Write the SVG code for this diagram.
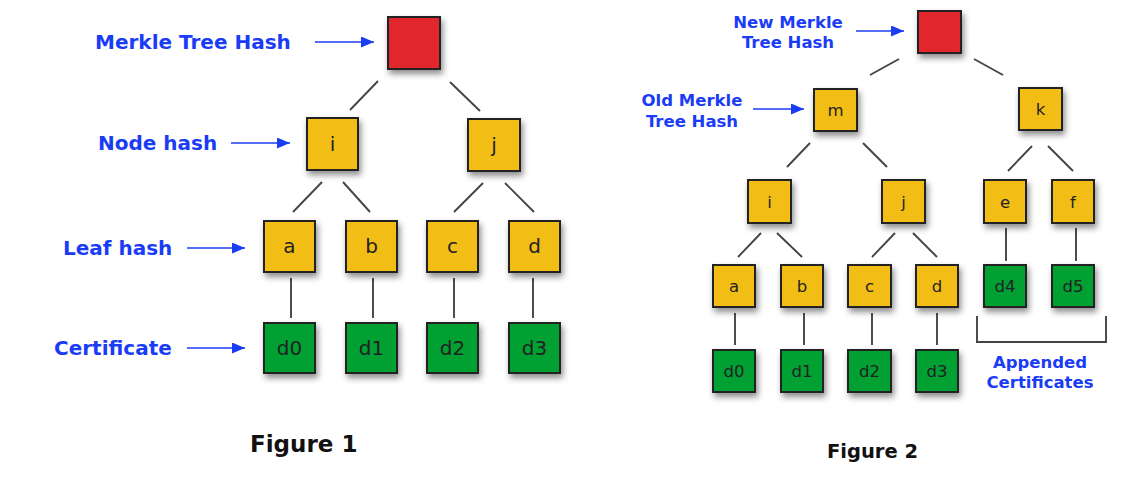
<svg xmlns="http://www.w3.org/2000/svg" width="1132" height="484" viewBox="0 0 1132 484">
<defs>
<filter id="sh" x="-30%" y="-30%" width="170%" height="170%">
<feDropShadow dx="2" dy="4" stdDeviation="3" flood-color="#000" flood-opacity="0.45"/>
</filter>
<marker id="ah" viewBox="0 0 13 11" refX="13" refY="5.5" markerWidth="13" markerHeight="11" markerUnits="userSpaceOnUse" orient="auto">
<path d="M0,0 L13,5.5 L0,11 Z" fill="#1a3cf5"/>
</marker>
</defs>
<style>
.red{fill:#e1262f;stroke:#222;stroke-width:2}
.yel{fill:#f2be12;stroke:#222;stroke-width:2}
.grn{fill:#02a032;stroke:#222;stroke-width:2}
.t1{font-family:"DejaVu Sans",sans-serif;font-size:20px;fill:#222;text-anchor:middle}
.t2{font-family:"DejaVu Sans",sans-serif;font-size:16.5px;fill:#222;text-anchor:middle}
.lb1{font-family:"DejaVu Sans",sans-serif;font-weight:bold;font-size:20px;fill:#1a3cf5}
.lb2{font-family:"DejaVu Sans",sans-serif;font-weight:bold;font-size:16.5px;fill:#1a3cf5;text-anchor:middle}
.fig{font-family:"DejaVu Sans",sans-serif;font-weight:bold;fill:#111}
.arr{stroke:#1a3cf5;stroke-width:1.6;fill:none;marker-end:url(#ah)}
.ln{stroke:#444;stroke-width:1.9;fill:none}
</style>
<rect width="1132" height="484" fill="#fff"/>

<g id="connectors">
<line class="ln" x1="378" y1="81" x2="350" y2="110"/>
<line class="ln" x1="450" y1="82" x2="480" y2="111"/>
<line class="ln" x1="322" y1="182" x2="293" y2="212"/>
<line class="ln" x1="343" y1="182" x2="370" y2="212"/>
<line class="ln" x1="483" y1="183" x2="454" y2="212"/>
<line class="ln" x1="505" y1="183" x2="534" y2="212"/>
<line class="ln" x1="291" y1="278" x2="291" y2="318"/>
<line class="ln" x1="373" y1="278" x2="373" y2="318"/>
<line class="ln" x1="454" y1="278" x2="454" y2="318"/>
<line class="ln" x1="533" y1="278" x2="533" y2="318"/>

<line class="ln" x1="899" y1="59" x2="870" y2="75"/>
<line class="ln" x1="974" y1="59" x2="1003" y2="75"/>
<line class="ln" x1="810" y1="143" x2="787" y2="167"/>
<line class="ln" x1="863" y1="143" x2="887" y2="167"/>
<line class="ln" x1="1032" y1="146" x2="1008" y2="171"/>
<line class="ln" x1="1048" y1="146" x2="1073" y2="171"/>
<line class="ln" x1="761" y1="233" x2="738" y2="257"/>
<line class="ln" x1="777" y1="233" x2="802" y2="257"/>
<line class="ln" x1="895" y1="233" x2="872" y2="257"/>
<line class="ln" x1="913" y1="233" x2="937" y2="257"/>
<line class="ln" x1="1006" y1="228" x2="1006" y2="261"/>
<line class="ln" x1="1076" y1="228" x2="1076" y2="261"/>
<line class="ln" x1="735" y1="313" x2="735" y2="345"/>
<line class="ln" x1="804" y1="313" x2="804" y2="345"/>
<line class="ln" x1="872" y1="313" x2="872" y2="345"/>
<line class="ln" x1="937" y1="313" x2="937" y2="345"/>
<path class="ln" d="M977,316 V342 H1106 V316"/>

<line class="arr" x1="315" y1="42" x2="374" y2="42"/>
<line class="arr" x1="231" y1="143" x2="290" y2="143"/>
<line class="arr" x1="187" y1="248" x2="245" y2="248"/>
<line class="arr" x1="187" y1="348" x2="245" y2="348"/>
<line class="arr" x1="856" y1="31" x2="904" y2="31"/>
<line class="arr" x1="753" y1="109" x2="804" y2="109"/>
</g>

<g id="labels1">
<text class="lb1" x="95" y="49">Merkle Tree Hash</text>
<text class="lb1" x="98" y="150">Node hash</text>
<text class="lb1" x="63" y="255">Leaf hash</text>
<text class="lb1" x="54" y="355">Certificate</text>
<text class="fig" x="250" y="452" font-size="23">Figure 1</text>
</g>

<g id="f1-root"><rect class="red" x="388" y="17" width="52" height="52" filter="url(#sh)"/></g>
<g id="f1-i"><rect class="yel" x="307" y="118" width="51" height="52" filter="url(#sh)"/><text class="t1" x="332.5" y="151">i</text></g>
<g id="f1-j"><rect class="yel" x="468" y="119" width="52" height="52" filter="url(#sh)"/><text class="t1" x="494" y="152">j</text></g>
<g id="f1-a"><rect class="yel" x="264" y="221" width="51" height="51" filter="url(#sh)"/><text class="t1" x="289.5" y="253">a</text></g>
<g id="f1-b"><rect class="yel" x="346" y="221" width="51" height="51" filter="url(#sh)"/><text class="t1" x="371.5" y="253">b</text></g>
<g id="f1-c"><rect class="yel" x="427" y="221" width="51" height="51" filter="url(#sh)"/><text class="t1" x="452.5" y="253">c</text></g>
<g id="f1-d"><rect class="yel" x="509" y="221" width="51" height="51" filter="url(#sh)"/><text class="t1" x="534.5" y="253">d</text></g>
<g id="f1-d0"><rect class="grn" x="264" y="323" width="51" height="50" filter="url(#sh)"/><text class="t1" x="289.5" y="355">d0</text></g>
<g id="f1-d1"><rect class="grn" x="346" y="323" width="51" height="50" filter="url(#sh)"/><text class="t1" x="371.5" y="355">d1</text></g>
<g id="f1-d2"><rect class="grn" x="427" y="323" width="51" height="50" filter="url(#sh)"/><text class="t1" x="452.5" y="355">d2</text></g>
<g id="f1-d3"><rect class="grn" x="509" y="323" width="51" height="50" filter="url(#sh)"/><text class="t1" x="534.5" y="355">d3</text></g>

<g id="labels2">
<text class="lb2" x="788" y="28">New Merkle</text>
<text class="lb2" x="788" y="48">Tree Hash</text>
<text class="lb2" x="692" y="106">Old Merkle</text>
<text class="lb2" x="692" y="127">Tree Hash</text>
<text class="lb2" x="1040" y="368">Appended</text>
<text class="lb2" x="1040" y="388">Certificates</text>
<text class="fig" x="827" y="458" font-size="19.5">Figure 2</text>
</g>

<g id="f2-root"><rect class="red" x="918" y="11" width="43" height="42" filter="url(#sh)"/></g>
<g id="f2-m"><rect class="yel" x="814" y="89" width="43" height="42" filter="url(#sh)"/><text class="t2" x="835.5" y="116">m</text></g>
<g id="f2-k"><rect class="yel" x="1019" y="88" width="43" height="42" filter="url(#sh)"/><text class="t2" x="1040.5" y="115">k</text></g>
<g id="f2-i"><rect class="yel" x="748" y="180" width="43" height="43" filter="url(#sh)"/><text class="t2" x="769.5" y="207.5">i</text></g>
<g id="f2-j"><rect class="yel" x="882" y="180" width="43" height="43" filter="url(#sh)"/><text class="t2" x="903.5" y="207.5">j</text></g>
<g id="f2-e"><rect class="yel" x="984" y="180" width="42" height="43" filter="url(#sh)"/><text class="t2" x="1005" y="207.5">e</text></g>
<g id="f2-f"><rect class="yel" x="1052" y="180" width="42" height="43" filter="url(#sh)"/><text class="t2" x="1073" y="207.5">f</text></g>
<g id="f2-a"><rect class="yel" x="713" y="265" width="42" height="42" filter="url(#sh)"/><text class="t2" x="734" y="292">a</text></g>
<g id="f2-b"><rect class="yel" x="781" y="265" width="42" height="42" filter="url(#sh)"/><text class="t2" x="802" y="292">b</text></g>
<g id="f2-c"><rect class="yel" x="848" y="265" width="43" height="42" filter="url(#sh)"/><text class="t2" x="869.5" y="292">c</text></g>
<g id="f2-d"><rect class="yel" x="916" y="265" width="42" height="42" filter="url(#sh)"/><text class="t2" x="937" y="292">d</text></g>
<g id="f2-d4"><rect class="grn" x="984" y="265" width="42" height="42" filter="url(#sh)"/><text class="t2" x="1005" y="292">d4</text></g>
<g id="f2-d5"><rect class="grn" x="1052" y="265" width="42" height="42" filter="url(#sh)"/><text class="t2" x="1073" y="292">d5</text></g>
<g id="f2-d0"><rect class="grn" x="713" y="350" width="42" height="42" filter="url(#sh)"/><text class="t2" x="734" y="377">d0</text></g>
<g id="f2-d1"><rect class="grn" x="781" y="350" width="42" height="42" filter="url(#sh)"/><text class="t2" x="802" y="377">d1</text></g>
<g id="f2-d2"><rect class="grn" x="848" y="350" width="43" height="42" filter="url(#sh)"/><text class="t2" x="869.5" y="377">d2</text></g>
<g id="f2-d3"><rect class="grn" x="916" y="350" width="42" height="42" filter="url(#sh)"/><text class="t2" x="937" y="377">d3</text></g>
</svg>
